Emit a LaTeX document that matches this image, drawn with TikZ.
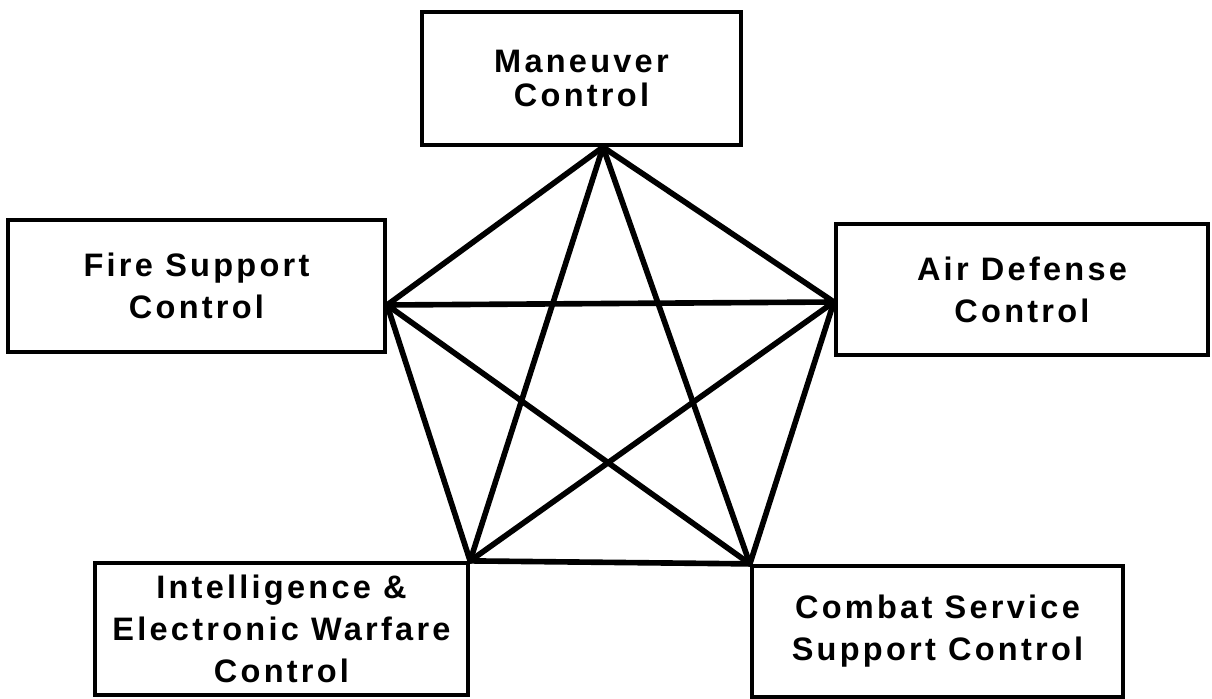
\documentclass[tikz,border=0pt]{standalone}
\usepackage{fontspec}
\newfontfamily\boxfont[LetterSpace=10]{Liberation Sans}
\usetikzlibrary{positioning,calc}

\begin{document}
\begin{tikzpicture}[
  % --- boxes ---
  ctrl/.style={
    draw, line width=2.4pt, align=center, inner sep=0pt,
    font=\boxfont\bfseries\fontsize{18.5}{24}\selectfont
  },
  % --- links ---
  link/.style={line width=3.2pt, line cap=round},
]

\useasboundingbox (0,0) rectangle (24.24,-13.98);

% ===================== BOXES =====================

\node[ctrl, minimum width=6.38cm, minimum height=2.66cm] (man) at (11.63,-1.57)
  {Maneuver\\[-5pt]Control};
\node[ctrl, minimum width=7.54cm, minimum height=2.64cm] (fire) at (3.93,-5.72)
  {Fire Support\\Control};
\node[ctrl, minimum width=7.44cm, minimum height=2.62cm] (air) at (20.44,-5.79)
  {Air Defense\\Control};
\node[ctrl, minimum width=7.46cm, minimum height=2.64cm] (intel) at (5.63,-12.58)
  {Intelligence \&\\Electronic Warfare\\Control};
\node[ctrl, minimum width=7.42cm, minimum height=2.62cm] (css) at (18.75,-12.63)
  {Combat Service\\Support Control};

% ===================== CORNERS =====================

\coordinate (pT) at ([xshift=0.43cm]man.south);
\coordinate (pL) at ([yshift=-0.38cm]fire.east);
\coordinate (pR) at ([yshift=-0.25cm]air.west);
\coordinate (pBL) at (intel.north east);
\coordinate (pBR) at (css.north west);

% ===================== LINKS =====================

\foreach \a/\b in {pT/pL, pT/pR, pT/pBL, pT/pBR, pL/pR,
                   pL/pBL, pL/pBR, pR/pBL, pR/pBR, pBL/pBR}
  \draw[link] (\a) -- (\b);

\end{tikzpicture}
\end{document}
